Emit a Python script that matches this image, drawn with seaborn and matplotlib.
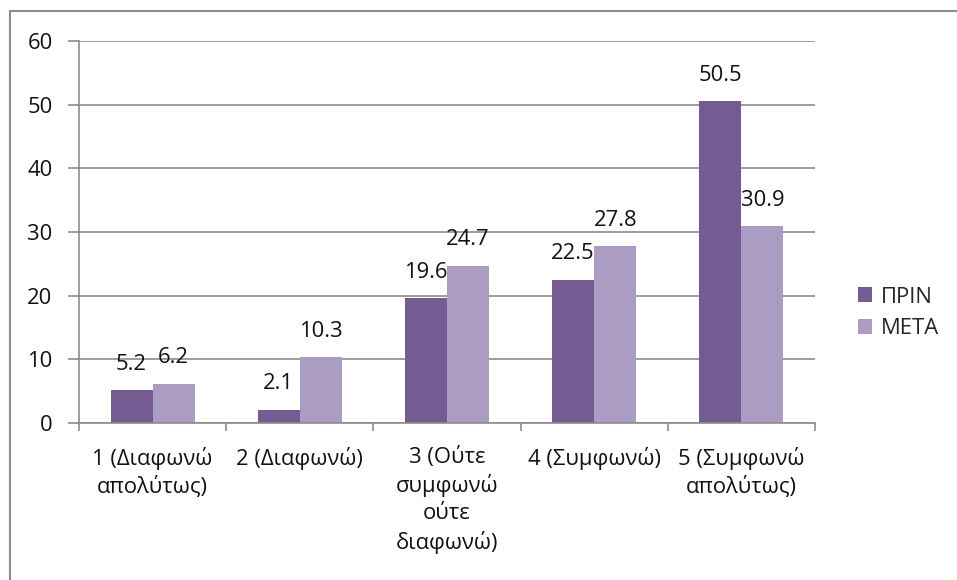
import matplotlib
matplotlib.use("Agg")
import matplotlib.pyplot as plt
import seaborn as sns
import pandas as pd
from matplotlib.patches import Rectangle

categories = ["1 (Διαφωνώ\nαπολύτως)", "2 (Διαφωνώ)", "3 (Ούτε\nσυμφωνώ\nούτε\nδιαφωνώ)",
              "4 (Συμφωνώ)", "5 (Συμφωνώ\nαπολύτως)"]
series_names = ["ΠΡΙΝ", "ΜΕΤΑ"]
before = [5.2, 2.1, 19.6, 22.5, 50.5]
after = [6.2, 10.3, 24.7, 27.8, 30.9]
y_ticks = [0, 10, 20, 30, 40, 50, 60]

colors = ["#745B91", "#AA9CC3"]
grid_gray = "#8C8C8C"
text_color = "#111111"
fs = 15.8

sns.set_theme(style="white")
plt.rcParams["font.family"] = ["Open Sans", "DejaVu Sans"]

df = pd.DataFrame({
    "cat": categories * 2,
    "series": [series_names[0]] * 5 + [series_names[1]] * 5,
    "value": before + after,
})

fig = plt.figure(figsize=(9.57, 5.80), dpi=100)
ax = fig.add_axes([79 / 957, 1 - 423 / 580, (815 - 79) / 957, (423 - 41) / 580])

sns.barplot(data=df, x="cat", y="value", hue="series", order=categories,
            hue_order=series_names, palette=colors, width=0.572,
            saturation=1, edgecolor="none", linewidth=0, ax=ax)

for container in ax.containers:
    ax.bar_label(container, labels=[f"{v:.1f}" for v in container.datavalues],
                 padding=11, fontsize=fs, color=text_color)

ax.set_xlim(-0.5, 4.5)
ax.set_ylim(0, 60)
ax.set_yticks(y_ticks)
ax.yaxis.grid(True, color=grid_gray, linewidth=1.2)
ax.set_axisbelow(True)
ax.set_xlabel("")
ax.set_ylabel("")

for side in ["top", "right"]:
    ax.spines[side].set_visible(False)
for side in ["left", "bottom"]:
    ax.spines[side].set_color(grid_gray)
    ax.spines[side].set_linewidth(1.2)

ax.tick_params(axis="y", which="major", length=8, width=1.2, color=grid_gray,
               direction="out", left=True, labelsize=fs, pad=11, labelcolor=text_color)
ax.tick_params(axis="x", which="major", length=0, labelsize=fs, pad=17, labelcolor=text_color)
ax.set_xticks([i - 0.5 for i in range(6)], minor=True)
ax.tick_params(axis="x", which="minor", length=6, width=1.2, color=grid_gray,
               direction="out", bottom=True)
for lab in ax.get_xticklabels():
    lab.set_linespacing(1.37)
    lab.set_verticalalignment("top")

sns.move_legend(ax, "center left", bbox_to_anchor=(838 / 957, 1 - 313 / 580),
                bbox_transform=fig.transFigure, title=None, frameon=False,
                fontsize=fs, handlelength=0.65, handleheight=0.65,
                handletextpad=0.4, labelspacing=0.5)

fig.add_artist(Rectangle((10 / 957, -0.05), 1.2, 1 - 11 / 580 + 0.05,
                         transform=fig.transFigure, fill=False,
                         edgecolor=grid_gray, linewidth=1.5))

fig.savefig("out.png", dpi=100, facecolor="white")
